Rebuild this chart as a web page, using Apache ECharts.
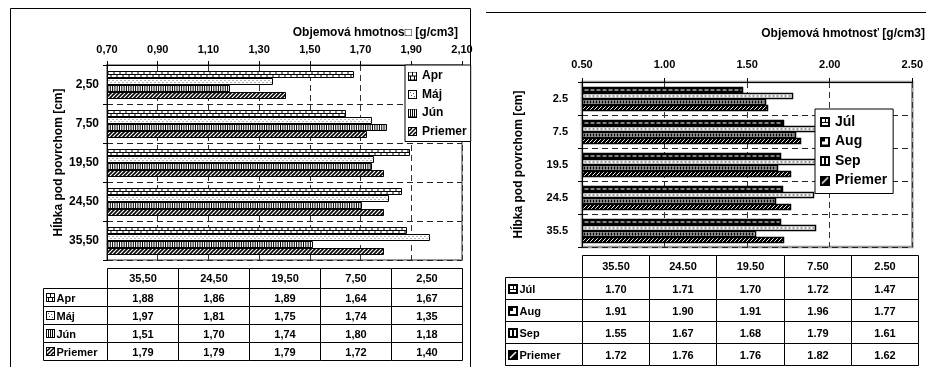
<!DOCTYPE html>
<html>
<head>
<meta charset="utf-8">
<script src="https://cdn.jsdelivr.net/npm/echarts@6/dist/echarts.min.js"></script>
<style>
  html, body { margin: 0; padding: 0; background: #fff; }
  #chart { width: 926px; height: 367px; }
</style>
</head>
<body>
<div id="chart"></div>
<script>
// Depth categories (cm) and tick labels
const depthsSpring = ['2,50', '7,50', '19,50', '24,50', '35,50'];
const depthsSummer = ['2.5', '7.5', '19.5', '24.5', '35.5'];
const tableHeadSpring = ['35,50', '24,50', '19,50', '7,50', '2,50'];
const tableHeadSummer = ['35.50', '24.50', '19.50', '7.50', '2.50'];
const ticksSpring = [0.7, 0.9, 1.1, 1.3, 1.5, 1.7, 1.9, 2.1];

// Bulk density [g/cm3], ordered by depth 2.5, 7.5, 19.5, 24.5, 35.5
const apr = [1.67, 1.64, 1.89, 1.86, 1.88];
const maj = [1.35, 1.74, 1.75, 1.81, 1.97];
const jun = [1.18, 1.80, 1.74, 1.70, 1.51];
const priemerSpring = [1.40, 1.72, 1.79, 1.79, 1.79];
const jul = [1.47, 1.72, 1.70, 1.71, 1.70];
const aug = [1.77, 1.96, 1.91, 1.90, 1.91];
const sep = [1.61, 1.79, 1.68, 1.67, 1.55];
const priemerSummer = [1.62, 1.82, 1.76, 1.76, 1.72];

const FONT = '"Liberation Sans", Arial, Helvetica, sans-serif';
const bold = (size) => 'bold ' + size + 'px ' + FONT;

// ---------- fill patterns and icons ----------
function tile(size, draw) {
  const c = document.createElement('canvas');
  c.width = c.height = size;
  draw(c.getContext('2d'), size);
  return c;
}
function diag(g, s) {
  g.beginPath();
  g.moveTo(0, s); g.lineTo(s, 0);
  g.moveTo(-1, 1); g.lineTo(1, -1);
  g.moveTo(s - 1, s + 1); g.lineTo(s + 1, s - 1);
  g.stroke();
}
const hatchDark = tile(4, (g, s) => {
  g.fillStyle = '#fff'; g.fillRect(0, 0, s, s);
  g.strokeStyle = '#000'; g.lineWidth = 1.6; diag(g, s);
});
const hatchInverse = tile(4, (g, s) => {
  g.fillStyle = '#000'; g.fillRect(0, 0, s, s);
  g.strokeStyle = '#fff'; g.lineWidth = 1; diag(g, s);
});

function iconSpring(kind) {
  return tile(9, (g, s) => {
    g.fillStyle = '#fff'; g.fillRect(0, 0, s, s);
    g.strokeStyle = '#000'; g.lineWidth = 1;
    g.strokeRect(0.5, 0.5, s - 1, s - 1);
    g.fillStyle = '#000';
    if (kind === 'apr') {
      g.fillRect(1, 4, 7, 1); g.fillRect(4, 1, 1, 3); g.fillRect(2, 5, 1, 3); g.fillRect(6, 5, 1, 3);
    } else if (kind === 'maj') {
      g.fillStyle = '#555';
      g.fillRect(2, 2, 1, 1); g.fillRect(5, 3, 1, 1); g.fillRect(3, 5, 1, 1); g.fillRect(6, 6, 1, 1);
    } else if (kind === 'jun') {
      g.fillRect(2, 1, 1, 7); g.fillRect(4, 1, 1, 7); g.fillRect(6, 1, 1, 7);
    } else {
      g.lineWidth = 1.5;
      g.beginPath(); g.moveTo(1, 8); g.lineTo(8, 1); g.moveTo(1, 4); g.lineTo(4, 1); g.moveTo(5, 8); g.lineTo(8, 5); g.stroke();
    }
  });
}
function iconSummer(kind) {
  return tile(10, (g, s) => {
    g.fillStyle = '#000'; g.fillRect(0, 0, s, s);
    g.fillStyle = '#fff';
    if (kind === 'jul') {
      g.fillRect(2, 2, 6, 6); g.fillStyle = '#000'; g.fillRect(2, 5, 6, 1); g.fillRect(5, 2, 1, 3);
    } else if (kind === 'aug') {
      g.fillRect(2, 2, 6, 6); g.fillStyle = '#000'; g.fillRect(2, 2, 3, 3);
    } else if (kind === 'sep') {
      g.fillRect(2, 2, 2, 6); g.fillRect(6, 2, 2, 6);
    } else {
      g.strokeStyle = '#fff'; g.lineWidth = 1.5;
      g.beginPath(); g.moveTo(2, 8); g.lineTo(8, 2); g.stroke();
    }
  });
}
const icons = {
  apr: iconSpring('apr'), maj: iconSpring('maj'), jun: iconSpring('jun'), priS: iconSpring('pri'),
  jul: iconSummer('jul'), aug: iconSummer('aug'), sep: iconSummer('sep'), priL: iconSummer('pri')
};
const iconUrl = (c) => 'image://' + c.toDataURL();

// ---------- bar painters ----------
const rect = (x, y, w, h, fill, stroke, lw) =>
  ({ type: 'rect', shape: { x, y, width: w, height: h }, style: { fill, stroke, lineWidth: lw } });
const line = (x1, y1, x2, y2, style) =>
  ({ type: 'line', shape: { x1, y1, x2, y2 }, style: Object.assign({ fill: null }, style) });

const painters = {
  apr: (x, y, w, h) => [
    rect(x, y, w, h, '#fff', '#000', 1),
    line(x, y + h / 2, x + w, y + h / 2, { stroke: '#000', lineWidth: 1 }),
    line(x, y + h / 4, x + w, y + h / 4, { stroke: '#000', lineWidth: h / 2, lineDash: [1, 5] }),
    line(x, y + 3 * h / 4, x + w, y + 3 * h / 4, { stroke: '#000', lineWidth: h / 2, lineDash: [1, 5], lineDashOffset: 3 })
  ],
  maj: (x, y, w, h) => [
    rect(x, y, w, h, '#fff', '#000', 1),
    line(x + 1, y + 2, x + w, y + 2, { stroke: '#666', lineWidth: 1, lineDash: [1, 3] }),
    line(x + 1, y + 4, x + w, y + 4, { stroke: '#666', lineWidth: 1, lineDash: [1, 3], lineDashOffset: 2 })
  ],
  jun: (x, y, w, h) => [
    rect(x, y, w, h, '#fff', '#000', 1),
    line(x, y + h / 2, x + w, y + h / 2, { stroke: '#000', lineWidth: h - 1, lineDash: [1, 1.3] })
  ],
  priS: (x, y, w, h) => [
    rect(x, y, w, h, { image: hatchDark, repeat: 'repeat' }, '#000', 1)
  ],
  jul: (x, y, w, h) => [
    rect(x, y, w, h, '#000', '#000', 1.5),
    line(x + 2, y + h / 2, x + w - 1, y + h / 2, { stroke: '#fff', lineWidth: 1, lineDash: [4, 2] })
  ],
  aug: (x, y, w, h) => [
    rect(x, y, w, h, '#fff', '#000', 1.5),
    line(x + 2, y + h / 2, x + w - 1, y + h / 2, { stroke: '#777', lineWidth: 1.5, lineDash: [2, 2] })
  ],
  sep: (x, y, w, h) => [
    rect(x, y, w, h, '#fff', '#000', 1.5),
    line(x + 1, y + h / 2, x + w - 1, y + h / 2, { stroke: '#000', lineWidth: 3, lineDash: [2, 1] })
  ],
  priL: (x, y, w, h) => [
    rect(x, y, w, h, { image: hatchInverse, repeat: 'repeat' }, '#000', 1.5)
  ]
};

// Grouped horizontal bar, k-th of n inside each depth band
function barItem(kind, k, n, barH, gap) {
  return function (params, api) {
    const cs = params.coordSys;
    const end = api.coord([api.value(0), api.value(1)]);
    const total = n * barH + (n - 1) * gap;
    const x = Math.round(cs.x) + 0.5;
    const y = Math.round(end[1] - total / 2 + k * (barH + gap)) + 0.5;
    const w = Math.round(end[0] - cs.x);
    return { type: 'group', children: painters[kind](x, y, w, barH) };
  };
}

function barSeries(name, values, kind, k, idx, barH, gap) {
  return {
    type: 'custom', name, xAxisIndex: idx, yAxisIndex: idx,
    renderItem: barItem(kind, k, 4, barH, gap),
    encode: { x: 0, y: 1 },
    data: values.map((v, i) => [v, i]),
    clip: true
  };
}

// ---------- data tables under the plots ----------
function tableGraphics(cfg) {
  const els = [];
  const c = (v) => Math.round(v) + 0.5;
  cfg.heads.forEach((h, i) => {
    const x0 = c(cfg.left + i * cfg.colW), x1 = c(cfg.left + (i + 1) * cfg.colW);
    els.push({ type: 'rect', shape: { x: x0, y: c(cfg.top), width: x1 - x0, height: cfg.headH },
      style: { fill: '#fff', stroke: '#000', lineWidth: 1 } });
    els.push({ type: 'text', x: (x0 + x1) / 2, y: cfg.top + cfg.headH / 2 + 1,
      style: { text: h, font: cfg.font, fill: '#000', align: 'center', verticalAlign: 'middle',
        textAlign: 'center', textVerticalAlign: 'middle' } });
  });
  cfg.rows.forEach((r, j) => {
    const y0 = c(cfg.top + cfg.headH + j * cfg.rowH);
    const y1 = c(cfg.top + cfg.headH + (j + 1) * cfg.rowH);
    const xl = c(cfg.labelLeft), xr = c(cfg.left);
    els.push({ type: 'rect', shape: { x: xl, y: y0, width: xr - xl, height: y1 - y0 },
      style: { fill: '#fff', stroke: '#000', lineWidth: 1 } });
    els.push({ type: 'image', style: { image: r.icon, x: xl + 2.5, y: Math.round((y0 + y1) / 2 - r.icon.height / 2),
      width: r.icon.width, height: r.icon.height } });
    els.push({ type: 'text', x: xl + 4 + r.icon.width, y: (y0 + y1) / 2 + 1,
      style: { text: r.label, font: cfg.font, fill: '#000', align: 'left', verticalAlign: 'middle',
        textAlign: 'left', textVerticalAlign: 'middle' } });
    cfg.heads.forEach((h, i) => {
      const x0 = c(cfg.left + i * cfg.colW), x1 = c(cfg.left + (i + 1) * cfg.colW);
      const v = r.values[r.values.length - 1 - i];
      els.push({ type: 'rect', shape: { x: x0, y: y0, width: x1 - x0, height: y1 - y0 },
        style: { fill: '#fff', stroke: '#000', lineWidth: 1 } });
      els.push({ type: 'text', x: (x0 + x1) / 2, y: (y0 + y1) / 2 + 1,
        style: { text: cfg.fmt(v), font: cfg.font, fill: '#000', align: 'center', verticalAlign: 'middle',
          textAlign: 'center', textVerticalAlign: 'middle' } });
    });
  });
  return els;
}

const fmtComma = (v) => v.toFixed(2).replace('.', ',');
const fmtDot = (v) => v.toFixed(2);

const springTable = tableGraphics({
  left: 107, colW: 71, labelLeft: 43, top: 268, headH: 20, rowH: 18, font: bold(11),
  heads: tableHeadSpring, fmt: fmtComma,
  rows: [
    { label: 'Apr', icon: icons.apr, values: apr },
    { label: 'Máj', icon: icons.maj, values: maj },
    { label: 'Jún', icon: icons.jun, values: jun },
    { label: 'Priemer', icon: icons.priS, values: priemerSpring }
  ]
});
const summerTable = tableGraphics({
  left: 582, colW: 67.2, labelLeft: 505, top: 255, headH: 22, rowH: 22, font: bold(11),
  heads: tableHeadSummer, fmt: fmtDot,
  rows: [
    { label: 'Júl', icon: icons.jul, values: jul },
    { label: 'Aug', icon: icons.aug, values: aug },
    { label: 'Sep', icon: icons.sep, values: sep },
    { label: 'Priemer', icon: icons.priL, values: priemerSummer }
  ]
});

// ---------- axes ----------
const axisText = { color: '#000', fontWeight: 'bold', fontSize: 11, fontFamily: FONT };
const nameText = { color: '#000', fontWeight: 'bold', fontSize: 12, fontFamily: FONT };

function depthAxis(idx, data, gap, margin, labelSize) {
  return {
    type: 'category', gridIndex: idx, inverse: true, data,
    name: 'Hĺbka pod povrchom [cm]', nameLocation: 'middle', nameGap: gap, nameTextStyle: nameText,
    axisLine: { show: true, lineStyle: { color: '#000', width: 1 } },
    axisTick: { show: true, length: 4, lineStyle: { color: '#000' } },
    axisLabel: Object.assign({ margin }, axisText, { fontSize: labelSize }),
    splitLine: { show: true, lineStyle: { color: '#222', type: [6, 4], width: 1 } }
  };
}

const option = {
  animation: false,
  backgroundColor: '#fff',
  grid: [
    { left: 107, top: 65, width: 355, height: 195, show: true, borderColor: '#999', borderWidth: 2 },
    { left: 582, top: 82, width: 336, height: 165, show: true, borderColor: '#999', borderWidth: 2.5 }
  ],
  xAxis: [
    {
      type: 'value', gridIndex: 0, position: 'top', min: 0.7, max: 2.1,
      axisLine: { show: true, lineStyle: { color: '#000' } },
      axisTick: { show: true, length: 4, customValues: ticksSpring, lineStyle: { color: '#000' } },
      axisLabel: Object.assign({ margin: 10, customValues: ticksSpring, formatter: fmtComma }, axisText),
      splitLine: { show: true, lineStyle: { color: '#333', type: [6, 4], width: 1 } }
    },
    {
      type: 'value', gridIndex: 1, position: 'top', min: 0.5, max: 2.5, interval: 0.5,
      axisLine: { show: true, lineStyle: { color: '#000' } },
      axisTick: { show: true, length: 4, lineStyle: { color: '#000' } },
      axisLabel: Object.assign({ margin: 12, formatter: fmtDot }, axisText),
      splitLine: { show: true, lineStyle: { color: '#333', type: [6, 4], width: 1 } }
    }
  ],
  yAxis: [depthAxis(0, depthsSpring, 40, 8, 12), depthAxis(1, depthsSummer, 57, 14, 11)],
  legend: [
    {
      data: [
        { name: 'Apr', icon: iconUrl(icons.apr) },
        { name: 'Máj', icon: iconUrl(icons.maj) },
        { name: 'Jún', icon: iconUrl(icons.jun) },
        { name: 'Priemer (apr–jún)', icon: iconUrl(icons.priS) }
      ],
      formatter: (n) => n.split(' (')[0],
      orient: 'vertical', left: 405, top: 65, itemWidth: 9, itemHeight: 9, itemGap: 6.5,
      padding: [5, 4, 4, 3], borderColor: '#000', borderWidth: 1, backgroundColor: '#fff',
      selectedMode: false, textStyle: { color: '#000', fontWeight: 'bold', fontSize: 12, fontFamily: FONT }
    },
    {
      data: [
        { name: 'Júl', icon: iconUrl(icons.jul) },
        { name: 'Aug', icon: iconUrl(icons.aug) },
        { name: 'Sep', icon: iconUrl(icons.sep) },
        { name: 'Priemer (júl–sep)', icon: iconUrl(icons.priL) }
      ],
      formatter: (n) => n.split(' (')[0],
      orient: 'vertical', left: 815, top: 109, itemWidth: 10, itemHeight: 10, itemGap: 5.5,
      padding: [6, 6, 6, 5], borderColor: '#000', borderWidth: 1, backgroundColor: '#fff',
      selectedMode: false, textStyle: { color: '#000', fontWeight: 'bold', fontSize: 14, fontFamily: FONT }
    }
  ],
  series: [
    barSeries('Apr', apr, 'apr', 0, 0, 6, 1.2),
    barSeries('Máj', maj, 'maj', 1, 0, 6, 1.2),
    barSeries('Jún', jun, 'jun', 2, 0, 6, 1.2),
    barSeries('Priemer (apr–jún)', priemerSpring, 'priS', 3, 0, 6, 1.2),
    barSeries('Júl', jul, 'jul', 0, 1, 5, 0.8),
    barSeries('Aug', aug, 'aug', 1, 1, 5, 0.8),
    barSeries('Sep', sep, 'sep', 2, 1, 5, 0.8),
    barSeries('Priemer (júl–sep)', priemerSummer, 'priL', 3, 1, 5, 0.8)
  ],
  graphic: [
    // panel frames
    { type: 'rect', shape: { x: 10.5, y: 8.5, width: 460, height: 380 }, style: { fill: null, stroke: '#000', lineWidth: 1 }, z: -1 },
    { type: 'line', shape: { x1: 486, y1: 12.5, x2: 926, y2: 12.5 }, style: { stroke: '#000', lineWidth: 1 } },
    // axis titles
    { type: 'text', x: 458, y: 33, style: { text: 'Objemová hmotnos\u25A1 [g/cm3]', font: bold(12), fill: '#000',
      align: 'right', verticalAlign: 'middle', textAlign: 'right', textVerticalAlign: 'middle' } },
    { type: 'text', x: 925, y: 34, style: { text: 'Objemová hmotnosť [g/cm3]', font: bold(12), fill: '#000',
      align: 'right', verticalAlign: 'middle', textAlign: 'right', textVerticalAlign: 'middle' } }
  ].concat(springTable, summerTable)
};

const chart = echarts.init(document.getElementById('chart'));
chart.setOption(option);
</script>
</body>
</html>
